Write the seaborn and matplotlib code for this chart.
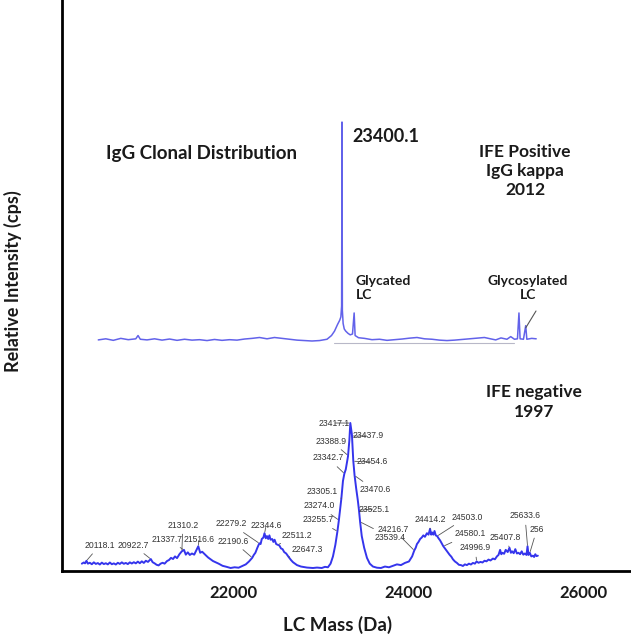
import numpy as np
import pandas as pd
import seaborn as sns
import matplotlib.pyplot as plt

# 2012 sample (IFE positive, IgG kappa): deconvoluted LC mass, % of max
TOP_MASS = [20150, 20250, 20350, 20450, 20550, 20650, 20680, 20710, 20800, 20900,
            21000, 21100, 21200, 21300, 21400, 21500, 21600, 21700, 21800, 21900,
            22000, 22100, 22200, 22300, 22400, 22500, 22600, 22700, 22800, 22900,
            23000, 23100, 23200, 23260, 23300, 23340, 23370, 23385, 23395, 23400,
            23405, 23415, 23430, 23450, 23480, 23510, 23540, 23562, 23575, 23620,
            23700, 23800, 23900, 24000, 24100, 24200, 24300, 24400, 24500, 24600,
            24700, 24800, 24900, 25000, 25100, 25200, 25300, 25380, 25450, 25520,
            25600, 25650, 25700, 25740, 25760, 25775, 25820, 25850, 25865, 25930,
            25990]
TOP_INT = [0.5, 1.0, 0.3, 1.2, 0.6, 1.0, 2.5, 0.8, 0.5, 1.0,
           0.4, 0.9, 0.3, 0.8, 0.4, 0.6, 0.2, 0.7, 0.3, 0.6,
           0.4, 0.9, 1.2, 1.6, 1.0, 1.6, 1.2, 0.8, 0.4, 0.2,
           0.0, 0.2, 0.8, 2.5, 4.5, 7.5, 9.5, 11.0, 16.0, 100.0,
           14.0, 8.0, 5.5, 4.5, 3.5, 2.8, 3.2, 12.8, 2.5, 1.5,
           1.2, 0.6, 0.8, 0.3, 0.6, 0.9, 1.3, 1.6, 1.0, 0.8,
           0.4, 0.2, 0.4, 0.7, 1.0, 1.3, 1.6, 1.0, 0.5, 1.4,
           0.8, 2.0, 0.8, 1.0, 12.8, 1.0, 0.8, 7.0, 0.8, 1.2,
           1.0]

# 1997 sample (IFE negative): polyclonal distribution, % of max
BOTTOM_MASS = [20060, 20085, 20100, 20118, 20135, 20160, 20185, 20210, 20235, 20260,
               20285, 20310, 20335, 20360, 20385, 20410, 20435, 20460, 20485, 20510,
               20535, 20560, 20585, 20610, 20635, 20660, 20685, 20710, 20735, 20760,
               20785, 20810, 20835, 20860, 20887, 20922, 20945, 20970, 20995, 21020,
               21045, 21070, 21095, 21125, 21150, 21175, 21200, 21225, 21250, 21280,
               21310, 21337, 21360, 21385, 21410, 21437, 21465, 21490, 21516, 21540,
               21565, 21590, 21615, 21640, 21670, 21700, 21730, 21770, 21820, 21870,
               21920, 21970, 22020, 22070, 22110, 22150, 22190, 22210, 22230, 22255,
               22279, 22295, 22310, 22330, 22344, 22360, 22375, 22390, 22405, 22420,
               22440, 22455, 22470, 22490, 22511, 22530, 22550, 22570, 22590, 22615,
               22647, 22675, 22700, 22750, 22800, 22875, 22950, 23000, 23060, 23100,
               23137, 23170, 23200, 23230, 23255, 23274, 23305, 23325, 23342, 23360,
               23388, 23405, 23417, 23437, 23454, 23470, 23490, 23510, 23525, 23539,
               23560, 23590, 23625, 23660, 23700, 23750, 23800, 23850, 23900, 23950,
               24000, 24050, 24100, 24150, 24190, 24216, 24235, 24250, 24270, 24290,
               24310, 24330, 24350, 24375, 24395, 24414, 24428, 24440, 24455, 24470,
               24485, 24503, 24520, 24540, 24560, 24580, 24600, 24620, 24640, 24660,
               24680, 24700, 24725, 24750, 24775, 24800, 24825, 24850, 24875, 24900,
               24925, 24950, 24975, 24996, 25020, 25045, 25070, 25095, 25120, 25145,
               25170, 25200, 25225, 25250, 25270, 25290, 25305, 25320, 25340, 25360,
               25385, 25407, 25425, 25440, 25460, 25480, 25500, 25520, 25540, 25560,
               25580, 25600, 25620, 25633, 25645, 25661, 25680, 25700, 25715, 25730,
               25745, 25762]
BOTTOM_INT = [3.0, 3.8, 3.2, 5.0, 3.0, 3.6, 2.6, 3.9, 2.8, 3.4,
              2.4, 3.7, 2.7, 3.3, 2.5, 3.8, 2.6, 3.2, 2.4, 3.6,
              2.8, 3.9, 2.9, 3.5, 2.7, 3.9, 3.1, 4.0, 3.2, 4.4,
              3.3, 4.6, 3.5, 5.0, 4.2, 6.2, 4.0, 3.2, 2.2, 1.8,
              3.0, 3.6, 3.0, 4.8, 5.5, 7.0, 6.2, 8.0, 6.8, 9.5,
              11.5, 12.5, 9.2, 10.8, 9.0, 10.0, 9.2, 12.0, 15.0, 10.5,
              11.2, 9.8, 8.5, 7.2, 6.0, 4.8, 4.0, 3.0, 1.5, 0.8,
              0.0, 0.5, 0.2, 1.5, 2.5, 4.5, 7.0, 9.0, 10.5, 14.0,
              17.0, 16.5, 20.0, 21.0, 24.0, 20.5, 22.0, 20.0, 22.5, 19.5,
              20.0, 18.0, 19.5, 16.5, 16.0, 15.5, 13.5, 13.0, 11.0, 10.0,
              7.5, 5.5, 4.0, 2.0, 1.0, 0.3, 0.0, 0.3, 0.0, 0.8,
              0.5, 3.0, 8.0, 16.0, 25.0, 33.0, 48.0, 60.0, 65.0, 68.0,
              77.0, 88.0, 100.0, 92.0, 74.0, 64.0, 55.0, 47.0, 40.0, 32.0,
              22.0, 14.0, 7.0, 3.0, 1.0, 0.2, 0.0, 1.0, 0.5, 1.5,
              2.5, 2.0, 3.5, 4.5, 8.0, 12.0, 14.0, 16.5, 18.0, 20.0,
              21.0, 22.5, 21.5, 24.0, 23.0, 27.0, 23.0, 24.5, 23.0, 25.5,
              22.5, 22.0, 20.5, 19.0, 17.0, 15.0, 13.5, 12.0, 10.5, 9.0,
              7.8, 6.0, 4.5, 3.5, 2.2, 2.0, 1.4, 2.5, 2.0, 3.0,
              2.4, 3.5, 3.0, 4.5, 3.6, 4.2, 3.8, 5.0, 4.6, 5.8,
              5.2, 6.5, 6.0, 8.0, 9.0, 12.5, 9.5, 10.5, 9.8, 12.5,
              11.0, 14.0, 10.5, 11.5, 10.2, 13.0, 10.0, 10.5, 9.5, 11.5,
              9.2, 10.0, 9.0, 15.0, 9.0, 10.5, 8.0, 8.5, 7.6, 9.5,
              8.2, 8.5]

BOTTOM_PEAKS = ["20118.1", "20922.7", "21310.2", "21337.7", "21516.6", "22190.6",
                "22279.2", "22344.6", "22511.2", "22647.3", "23305.1", "23274.0",
                "23255.7", "23342.7", "23388.9", "23417.1", "23437.9", "23454.6",
                "23470.6", "23525.1", "23539.4", "24216.7", "24414.2", "24503.0",
                "24580.1", "24996.9", "25407.8", "25633.6", "25661.4"]
# where each peak label sits in the picture (pixels from top-left)
LABEL_POS = [(100, 545), (133, 545), (183, 525), (167, 539), (199, 539), (233, 541),
             (231, 524), (266, 526), (297, 535), (307, 549), (322, 492), (319, 506),
             (318, 520), (328, 458), (331, 441), (334, 423), (368, 436), (372, 462),
             (375, 490), (374, 509), (390, 537), (393, 529), (430, 519), (467, 517),
             (470, 534), (475, 548), (505, 537), (525, 516), (537, 529)]

XTICKS = [22000, 24000, 26000]
SPECTRUM_TICKS = list(range(20500, 26000, 500))

W, H = 631, 637
# the two spectra were pasted in with their own mass scales
TOP_CAL = (23400, 23240, 0.857)      # ref mass, axis pos, gain
BOTTOM_CAL = (23500, 23411, 0.914)
TOP_BASE, TOP_SCALE = 230, 2.19
BOTTOM_BASE, BOTTOM_SCALE = 3, 1.45


def to_axis(mass, cal):
    ref_mass, ref_axis, gain = cal
    return ref_axis + (np.asarray(mass, dtype=float) - ref_mass) * gain


sns.set_style("white")
plt.rcParams['font.family'] = ['Lato', 'DejaVu Sans']

fig = plt.figure(figsize=(W / 100, H / 100), dpi=100)
ax = fig.add_axes([62 / W, 66 / H, 569 / W, 571 / H])

top = pd.DataFrame({"x": to_axis(TOP_MASS, TOP_CAL),
                    "y": TOP_BASE + TOP_SCALE * np.array(TOP_INT)})
bottom = pd.DataFrame({"x": to_axis(BOTTOM_MASS, BOTTOM_CAL),
                       "y": BOTTOM_BASE + BOTTOM_SCALE * np.array(BOTTOM_INT)})

ax.plot(to_axis([23300, 25700], TOP_CAL), [TOP_BASE - 1.5] * 2, color="#b8b8c8", lw=0.8)
sns.lineplot(data=top, x="x", y="y", ax=ax, color="#6262ea", lw=1.1,
             estimator=None, sort=False)
sns.lineplot(data=bottom, x="x", y="y", ax=ax, color="#3535ec", lw=1.4,
             estimator=None, sort=False)

small = dict(fontsize=6.2, family=['Liberation Sans', 'DejaVu Sans'], color="#333333",
             ha="center", va="center", textcoords="figure pixels",
             arrowprops=dict(arrowstyle="-", color="#555555", lw=0.6, shrinkA=1, shrinkB=1))
for lab, (px, py) in zip(BOTTOM_PEAKS, LABEL_POS):
    m = float(lab)
    xy = (to_axis(m, BOTTOM_CAL), BOTTOM_BASE + BOTTOM_SCALE * np.interp(m, BOTTOM_MASS, BOTTOM_INT))
    txt = "256" if lab == "25661.4" else lab
    ax.annotate(txt, xy=xy, xytext=(px, H - py), **small)

# top spectrum annotations
bold = dict(fontweight="bold", color="#1a1a1a", ha="center", va="center")
fig.text(202 / W, 1 - 154 / H, "IgG Clonal Distribution", fontsize=13.5, **bold)
fig.text(386 / W, 1 - 137 / H, "23400.1", fontsize=13, **bold)
fig.text(525 / W, 1 - 171 / H, "IFE Positive\nIgG kappa\n2012", fontsize=12.5,
         linespacing=1.25, multialignment="center", **bold)
fig.text(534 / W, 1 - 402 / H, "IFE negative\n1997", fontsize=12.5,
         linespacing=1.25, multialignment="center", **bold)
fig.text(356 / W, 1 - 288 / H, "Glycated\nLC", fontsize=10, linespacing=1.25,
         fontweight="bold", color="#1a1a1a", ha="left", va="center")
fig.text(528 / W, 1 - 288 / H, "Glycosylated\nLC", fontsize=10, linespacing=1.25,
         multialignment="center", **bold)
ax.annotate("", xy=(to_axis(25850, TOP_CAL), TOP_BASE + TOP_SCALE * 6),
            xytext=(536, H - 311), textcoords="figure pixels",
            arrowprops=dict(arrowstyle="-", color="#555555", lw=0.8, shrinkA=0, shrinkB=0))

ax.set_xlim(20040, 26543)
ax.set_ylim(0, 571)
ax.set_yticks([])
ax.set_xticks(XTICKS, labels=[str(t) for t in XTICKS], fontsize=12, fontweight="bold")
ax.set_xticks(to_axis(SPECTRUM_TICKS, BOTTOM_CAL), minor=True)
ax.tick_params(axis="x", which="major", length=0, pad=10, colors="#1a1a1a")
ax.tick_params(axis="x", which="minor", length=3, width=0.8, color="#777777", direction="out")

ax.set_xlabel("LC Mass (Da)", fontsize=13.5, fontweight="bold", color="#1a1a1a")
ax.xaxis.set_label_coords((338 - 62) / 569, -(625 - 571) / 571)
ax.xaxis.label.set_verticalalignment("center")
ax.set_ylabel("Relative Intensity (cps)", fontsize=13, fontweight="bold", color="#1a1a1a")
ax.yaxis.set_label_coords((13 - 62) / 569, (571 - 281) / 571)
ax.yaxis.label.set_verticalalignment("center")

sns.despine(ax=ax)
for side in ("left", "bottom"):
    ax.spines[side].set_color("black")
    ax.spines[side].set_linewidth(2)

fig.savefig("out.png", dpi=100)
plt.close(fig)
